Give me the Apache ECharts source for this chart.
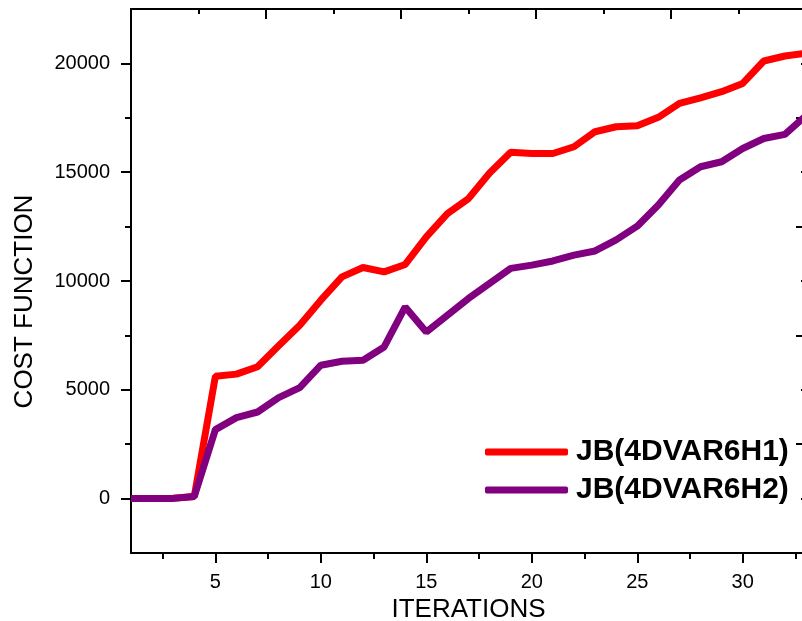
<!DOCTYPE html>
<html>
<head>
<meta charset="utf-8">
<script src="https://cdn.jsdelivr.net/npm/echarts@6/dist/echarts.min.js"></script>
<style>html,body{margin:0;padding:0;background:#fff;}#c{width:802px;height:621px;}</style>
</head>
<body>
<div id="c"></div>
<script>
var iterations = [1,2,3,4,5,6,7,8,9,10,11,12,13,14,15,16,17,18,19,20,21,22,23,24,25,26,27,28,29,30,31,32,33];
var jb1 = [0,0,20,100,5620,5720,6060,7020,7970,9120,10190,10620,10420,10760,12030,13100,13790,14960,15920,15860,15860,16170,16860,17090,17130,17520,18160,18420,18700,19080,20110,20340,20470];
var jb2 = [0,0,10,100,3170,3720,3980,4640,5100,6130,6310,6360,6970,8810,7660,8430,9200,9890,10580,10730,10920,11190,11380,11890,12520,13490,14640,15250,15480,16090,16550,16740,17600];
var seriesNames = ['JB(4DVAR6H1)','JB(4DVAR6H2)'];
var xMajorTicks = [5,10,15,20,25,30];
var xMinorTicks = [2.5,7.5,12.5,17.5,22.5,27.5,32.5];
var yMajorTicks = [0,5000,10000,15000,20000];
var yMinorTicks = [2500,7500,12500,17500];

var font = "'Liberation Sans', Arial, sans-serif";
var axisLine = {show:true, onZero:false, lineStyle:{color:'#000', width:2}};
var noLine = {show:false, onZero:false};
var plain = function(v){ return String(v); };
var chart = echarts.init(document.getElementById('c'), null, {renderer:'canvas'});
chart.setOption({
  animation:false,
  backgroundColor:'#fff',
  grid:{left:131, top:9, width:675, height:544, containLabel:false, outerBoundsMode:'none'},
  legend:{
    orient:'vertical', left:485, top:437, padding:0,
    itemWidth:83, itemHeight:7, itemGap:8, icon:'roundRect',
    textStyle:{fontFamily:font, fontSize:30, fontWeight:'bold', color:'#000', lineHeight:30, padding:[0,0,0,3]},
    data:seriesNames
  },
  xAxis:[
    {type:'value', position:'bottom', min:1, max:33, axisLine:axisLine,
     splitLine:{show:false},
     axisTick:{show:true, customValues:xMajorTicks, length:10, lineStyle:{color:'#000', width:2}},
     axisLabel:{show:true, customValues:xMajorTicks, formatter:plain, margin:19, fontFamily:font, fontSize:20, color:'#000'},
     name:'ITERATIONS', nameLocation:'middle', nameGap:43,
     nameTextStyle:{fontFamily:font, fontSize:26, color:'#000'}},
    {type:'value', position:'bottom', min:1, max:33, axisLine:noLine,
     splitLine:{show:false},
     axisTick:{show:true, customValues:xMinorTicks, length:6, lineStyle:{color:'#000', width:2}},
     axisLabel:{show:false}},
    {type:'value', position:'top', min:0, max:10, interval:2, axisLine:axisLine,
     splitLine:{show:false},
     axisTick:{show:true, inside:true, length:10, lineStyle:{color:'#000', width:2}},
     minorTick:{show:true, splitNumber:2, length:5, lineStyle:{color:'#000', width:2}},
     axisLabel:{show:false}}
  ],
  yAxis:[
    {type:'value', position:'left', min:-2500, max:22500, axisLine:axisLine,
     splitLine:{show:false},
     axisTick:{show:true, customValues:yMajorTicks, length:10, lineStyle:{color:'#000', width:2}},
     axisLabel:{show:true, customValues:yMajorTicks, formatter:plain, margin:21, fontFamily:font, fontSize:20, color:'#000'},
     name:'COST FUNCTION', nameLocation:'middle', nameGap:93,
     nameTextStyle:{fontFamily:font, fontSize:26, color:'#000', padding:[0,41,0,0]}},
    {type:'value', position:'left', min:-2500, max:22500, axisLine:noLine,
     splitLine:{show:false},
     axisTick:{show:true, customValues:yMinorTicks, length:6, lineStyle:{color:'#000', width:2}},
     axisLabel:{show:false}},
    {type:'value', position:'right', min:-2500, max:22500, interval:5000, axisLine:axisLine,
     splitLine:{show:false},
     axisTick:{show:true, inside:true, length:10, lineStyle:{color:'#000', width:2}},
     minorTick:{show:true, splitNumber:2, length:5, lineStyle:{color:'#000', width:2}},
     axisLabel:{show:false}}
  ],
  series:[
    {name:seriesNames[0], type:'line', xAxisIndex:0, yAxisIndex:0, symbol:'none',
     color:'#ff0000', lineStyle:{color:'#ff0000', width:7},
     data:iterations.map(function(x,i){return [x, jb1[i]];})},
    {name:seriesNames[1], type:'line', xAxisIndex:0, yAxisIndex:0, symbol:'none',
     color:'#800080', lineStyle:{color:'#800080', width:7},
     data:iterations.map(function(x,i){return [x, jb2[i]];})}
  ]
});
</script>
</body>
</html>
